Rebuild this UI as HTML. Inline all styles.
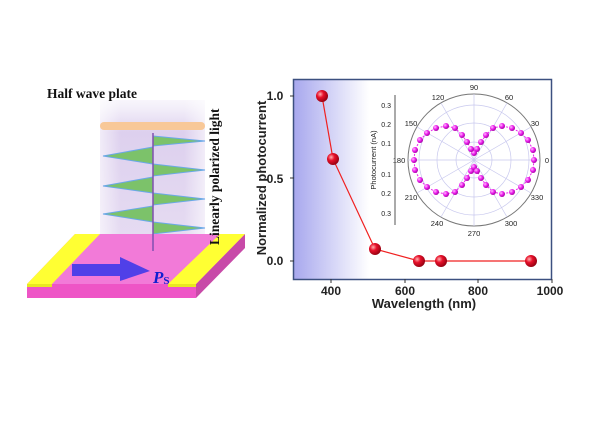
<!DOCTYPE html>
<html><head><style>body{margin:0;background:#fff}svg{display:block}</style></head><body>
<svg width="600" height="445" xmlns="http://www.w3.org/2000/svg" font-family="Liberation Sans, sans-serif">
<defs>
<linearGradient id="col" x1="0" x2="0" y1="0" y2="1"><stop offset="0" stop-color="#e8e0f4" stop-opacity="0.3"/><stop offset="0.2" stop-color="#ddd0ee"/><stop offset="0.9" stop-color="#e6dcf2"/><stop offset="1" stop-color="#fff" stop-opacity="0"/></linearGradient>
<linearGradient id="colh" x1="0" x2="1"><stop offset="0" stop-color="#fff" stop-opacity="0.6"/><stop offset="0.2" stop-color="#fff" stop-opacity="0"/><stop offset="0.8" stop-color="#fff" stop-opacity="0"/><stop offset="1" stop-color="#fff" stop-opacity="0.6"/></linearGradient>
<linearGradient id="uv" x1="0" x2="1"><stop offset="0" stop-color="#a8a8ee"/><stop offset="1" stop-color="#fff"/></linearGradient>
<radialGradient id="ball" cx="0.35" cy="0.35" r="0.7"><stop offset="0" stop-color="#ffb0b0"/><stop offset="0.4" stop-color="#e8102a"/><stop offset="1" stop-color="#900010"/></radialGradient>
<radialGradient id="pb" cx="0.35" cy="0.35" r="0.7"><stop offset="0" stop-color="#ffc0ff"/><stop offset="0.5" stop-color="#ee22ee"/><stop offset="1" stop-color="#a000a0"/></radialGradient>
</defs>
<rect x="100" y="100" width="105" height="160" fill="url(#col)"/>
<rect x="100" y="100" width="105" height="160" fill="url(#colh)"/>
<text x="47" y="98" font-family="Liberation Serif, serif" font-weight="bold" font-size="13.5" fill="#111">Half wave plate</text>
<rect x="100" y="122" width="105" height="8" rx="4" fill="#f8c898"/>
<g fill="#7cc26a" stroke="#6aa8e8" stroke-width="1">
<polygon points="153,136 205,141 153,146"/>
<polygon points="153,147 103,156 153,164"/>
<polygon points="153,164 205,170 153,176"/>
<polygon points="153,177 103,186 153,193"/>
<polygon points="153,193 205,199 153,205"/>
<polygon points="153,206 103,214 153,222"/>
<polygon points="153,222 205,228 153,234"/>
<polygon points="153,235 103,243 153,250"/>
</g>
<polygon points="75,234 245,234 196,284 27,284" fill="#f27ad8"/>
<polygon points="27,284 196,284 196,298 27,298" fill="#ee55c6"/>
<polygon points="196,284 245,234 245,248 196,298" fill="#c84aa8"/>
<polygon points="75,234 100,234 52,284 27,284" fill="#ffff33"/>
<polygon points="220,234 245,234 196,284 168,284" fill="#ffff33"/>
<rect x="27" y="284" width="25" height="3" fill="#e8e820"/>
<rect x="168" y="284" width="28" height="3" fill="#e8e820"/>
<line x1="153" y1="133" x2="153" y2="251" stroke="#8050b0" stroke-width="1.5"/>
<polygon points="72,264 120,264 120,257 150,271 120,281 120,276 72,276" fill="#5040e8"/>
<text x="153" y="283" font-family="Liberation Serif, serif" font-style="italic" font-weight="bold" font-size="17" fill="#1020d0">P<tspan font-size="11" font-style="normal" dy="1">S</tspan></text>
<text transform="translate(219,245) rotate(-90)" font-family="Liberation Serif, serif" font-weight="bold" font-size="13.5" fill="#111">Linearly polarized light</text>
<rect x="294" y="79" width="75" height="200" fill="url(#uv)"/>
<rect x="293.5" y="79.5" width="258" height="200" fill="none" stroke="#3c5080" stroke-width="1.5"/>
<g stroke="#333" stroke-width="1">
<line x1="331" y1="279" x2="331" y2="283"/><line x1="405" y1="279" x2="405" y2="283"/><line x1="478" y1="279" x2="478" y2="283"/><line x1="552" y1="279" x2="552" y2="283"/>
<line x1="294" y1="96" x2="290" y2="96"/><line x1="294" y1="178" x2="290" y2="178"/><line x1="294" y1="261" x2="290" y2="261"/>
</g>
<g font-size="12" font-weight="bold" fill="#222" text-anchor="middle">
<text x="331" y="295">400</text><text x="405" y="295">600</text><text x="478" y="295">800</text><text x="550" y="295">1000</text>
<text x="275" y="100">1.0</text><text x="275" y="183">0.5</text><text x="275" y="265">0.0</text>
</g>
<text x="424" y="308" font-size="13" font-weight="bold" text-anchor="middle" fill="#222">Wavelength (nm)</text>
<text transform="translate(266,178) rotate(-90)" font-size="13" font-weight="bold" text-anchor="middle" fill="#222">Normalized photocurrent</text>
<polyline points="322,96 333,159 375,249 419,261 441,261 531,261" fill="none" stroke="#f02020" stroke-width="1.2"/>
<g fill="url(#ball)">
<circle cx="322" cy="96" r="6"/><circle cx="333" cy="159" r="6"/><circle cx="375" cy="249" r="6"/><circle cx="419" cy="261" r="6"/><circle cx="441" cy="261" r="6"/><circle cx="531" cy="261" r="6"/>
</g>
<g transform="translate(474,160)">
<circle r="66" fill="none" stroke="#777" stroke-width="1"/>
<g fill="none" stroke="#c8c8ee" stroke-width="0.7">
<circle r="18"/><circle r="37"/><circle r="55"/>
<line x1="-66" y1="0" x2="66" y2="0"/><line x1="0" y1="-66" x2="0" y2="66"/>
<line x1="-57" y1="-33" x2="57" y2="33"/><line x1="-57" y1="33" x2="57" y2="-33"/>
<line x1="-33" y1="-57" x2="33" y2="57"/><line x1="-33" y1="57" x2="33" y2="-57"/>
</g>
<g font-size="7.5" fill="#222" text-anchor="middle">
<text x="0" y="-70">90</text><text x="35" y="-60">60</text><text x="61" y="-34">30</text><text x="73" y="3">0</text>
<text x="63" y="40">330</text><text x="37" y="66">300</text><text x="0" y="76">270</text><text x="-37" y="66">240</text>
<text x="-63" y="40">210</text><text x="-75" y="3">180</text><text x="-63" y="-34">150</text><text x="-36" y="-60">120</text>
</g>
<path fill="none" stroke="#ee22ee" stroke-width="1" stroke-dasharray="2,1.5" d="M60,0 L59,-10 L54,-20 L47,-27 L38,-32 L28,-34 L19,-32 L12,-25 L7,-18 L3,-11 L0,-10 L-3,-11 L-7,-18 L-12,-25 L-19,-32 L-28,-34 L-38,-32 L-47,-27 L-54,-20 L-59,-10 L-60,0 L-59,10 L-54,20 L-47,27 L-38,32 L-28,34 L-19,32 L-12,25 L-7,18 L-3,11 L0,10 L3,11 L7,18 L12,25 L19,32 L28,34 L38,32 L47,27 L54,20 L59,10 Z"/>
<g fill="url(#pb)">
<circle cx="60" cy="0" r="3"/><circle cx="59" cy="-10" r="3"/><circle cx="54" cy="-20" r="3"/><circle cx="47" cy="-27" r="3"/><circle cx="38" cy="-32" r="3"/><circle cx="28" cy="-34" r="3"/><circle cx="19" cy="-32" r="3"/><circle cx="12" cy="-25" r="3"/><circle cx="7" cy="-18" r="3"/><circle cx="3" cy="-11" r="3"/><circle cx="0" cy="-7" r="3"/>
<circle cx="-3" cy="-11" r="3"/><circle cx="-7" cy="-18" r="3"/><circle cx="-12" cy="-25" r="3"/><circle cx="-19" cy="-32" r="3"/><circle cx="-28" cy="-34" r="3"/><circle cx="-38" cy="-32" r="3"/><circle cx="-47" cy="-27" r="3"/><circle cx="-54" cy="-20" r="3"/><circle cx="-59" cy="-10" r="3"/><circle cx="-60" cy="0" r="3"/>
<circle cx="-59" cy="10" r="3"/><circle cx="-54" cy="20" r="3"/><circle cx="-47" cy="27" r="3"/><circle cx="-38" cy="32" r="3"/><circle cx="-28" cy="34" r="3"/><circle cx="-19" cy="32" r="3"/><circle cx="-12" cy="25" r="3"/><circle cx="-7" cy="18" r="3"/><circle cx="-3" cy="11" r="3"/><circle cx="0" cy="7" r="3"/>
<circle cx="3" cy="11" r="3"/><circle cx="7" cy="18" r="3"/><circle cx="12" cy="25" r="3"/><circle cx="19" cy="32" r="3"/><circle cx="28" cy="34" r="3"/><circle cx="38" cy="32" r="3"/><circle cx="47" cy="27" r="3"/><circle cx="54" cy="20" r="3"/><circle cx="59" cy="10" r="3"/>
</g>
</g>
<line x1="395" y1="95" x2="395" y2="225" stroke="#555" stroke-width="1"/>
<g font-size="7" fill="#222" text-anchor="end">
<text x="391" y="108">0.3</text><text x="391" y="127">0.2</text><text x="391" y="146">0.1</text>
<text x="391" y="177">0.1</text><text x="391" y="196">0.2</text><text x="391" y="216">0.3</text>
</g>
<text transform="translate(376,160) rotate(-90)" font-size="7.5" text-anchor="middle" fill="#222">Photocurrent (nA)</text>
</svg>
</body></html>
